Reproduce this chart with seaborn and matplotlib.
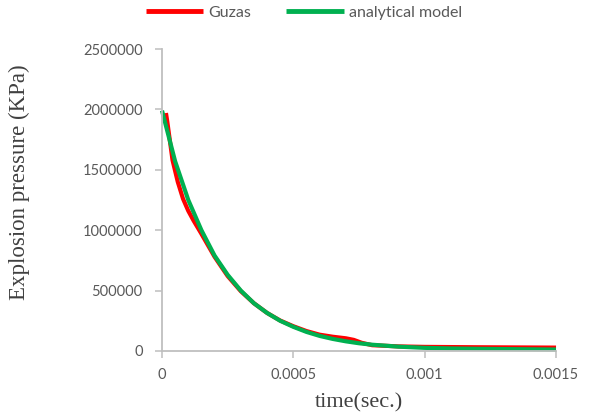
import matplotlib
matplotlib.use("Agg")
import matplotlib.pyplot as plt
import seaborn as sns
import pandas as pd

# Measured explosion pressure (Guzas) over time
guzas_time = [0.000015, 0.00002, 0.00004, 0.00006, 0.00008, 0.0001, 0.00012, 0.00015,
              0.0002, 0.00025, 0.0003, 0.00035, 0.0004, 0.00045, 0.0005, 0.00055, 0.0006,
              0.00065, 0.0007, 0.00073, 0.00076, 0.0008, 0.0009, 0.001, 0.0012, 0.0015]
guzas_pressure = [1970000, 1900000, 1580000, 1400000, 1260000, 1160000, 1080000, 970000,
                  780000, 620000, 495000, 395000, 315000, 252000, 205000, 165000, 135000,
                  118000, 105000, 92000, 68000, 48000, 38000, 34000, 31000, 28000]

# Analytical model curve
model_time = [0, 0.00005, 0.0001, 0.00015, 0.0002, 0.00025, 0.0003, 0.00035, 0.0004,
              0.00045, 0.0005, 0.00055, 0.0006, 0.00065, 0.0007, 0.00075, 0.0008,
              0.0009, 0.001, 0.0011, 0.0012, 0.0013, 0.0014, 0.0015]
model_pressure = [1990000, 1570000, 1250000, 1000000, 790000, 630000, 500000, 395000,
                  315000, 250000, 200000, 158000, 125000, 100000, 80000, 64000, 52000,
                  36000, 26000, 21000, 18000, 16000, 14000, 12000]

x_ticks = [0, 0.0005, 0.001, 0.0015]
x_tick_labels = ["0", "0.0005", "0.001", "0.0015"]
y_ticks = [0, 500000, 1000000, 1500000, 2000000, 2500000]
y_tick_labels = ["0", "500000", "1000000", "1500000", "2000000", "2500000"]

sns.set_style("white")
plt.rcParams["font.family"] = ["Lato", "DejaVu Sans"]

df = pd.concat([
    pd.DataFrame({"time": guzas_time, "pressure": guzas_pressure, "series": "Guzas"}),
    pd.DataFrame({"time": model_time, "pressure": model_pressure, "series": "analytical model"}),
])

fig = plt.figure(figsize=(5.9, 4.2), dpi=100)
ax = fig.add_axes([0.2746, 0.1643, 0.6678, 0.719])

sns.lineplot(data=df, x="time", y="pressure", hue="series",
             palette={"Guzas": "#FF0000", "analytical model": "#00B050"},
             linewidth=3.0, ax=ax, sort=False, estimator=None, legend=True)
for line in ax.lines:
    line.set_solid_capstyle("butt")
    line.set_clip_on(False)

ax.set_xlim(0, 0.0015)
ax.set_ylim(0, 2500000)
ax.set_xticks(x_ticks)
ax.set_xticklabels(x_tick_labels)
ax.set_yticks(y_ticks)
ax.set_yticklabels(y_tick_labels)

grey = "#BFBFBF"
for side in ["top", "right"]:
    ax.spines[side].set_visible(False)
for side in ["left", "bottom"]:
    ax.spines[side].set_color(grey)
    ax.spines[side].set_linewidth(1.3)
ax.tick_params(axis="both", which="major", direction="out", length=5, width=1.1,
               color=grey, labelcolor="#595959", labelsize=10.5,
               left=True, bottom=True)
ax.tick_params(axis="y", pad=9)
ax.tick_params(axis="x", pad=7)

serif = ["Liberation Serif", "DejaVu Serif"]
ax.set_xlabel("time(sec.)", family=serif, fontsize=16, color="#404040", labelpad=8)
ax.set_ylabel("Explosion pressure (KPa)", family=serif, fontsize=16.5, color="#404040")
ax.yaxis.set_label_coords(-0.335, 0.56)

handles, labels = ax.get_legend_handles_labels()
leg = ax.legend(handles, labels, loc="center", bbox_to_anchor=(0.36, 1.12),
                ncol=2, frameon=False, fontsize=11.5, handlelength=3.6,
                handletextpad=0.3, columnspacing=2.2, borderaxespad=0)
for t in leg.get_texts():
    t.set_color("#595959")
for h in leg.get_lines():
    h.set_linewidth(3.5)

fig.savefig("out.png", dpi=100)
